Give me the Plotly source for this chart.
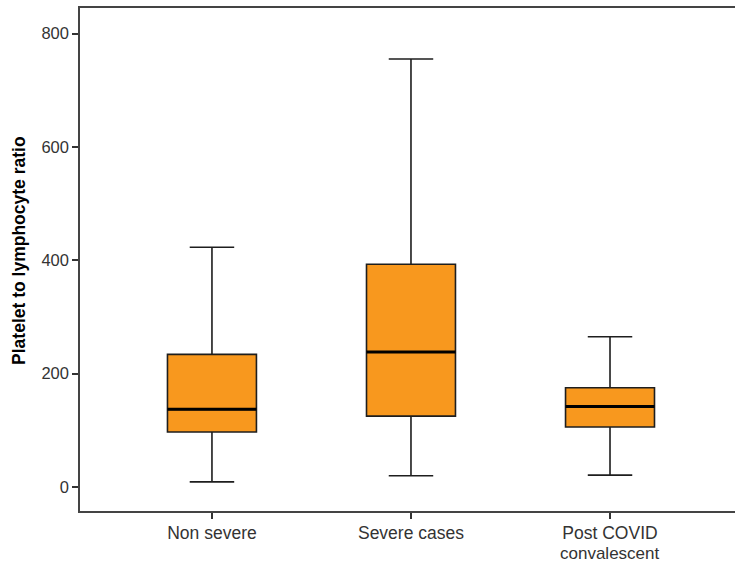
import plotly.graph_objects as go

# Summary statistics of platelet-to-lymphocyte ratio per group
groups = ["Non severe", "Severe cases", "Post COVID<br>convalescent"]
lower_whisker = [9, 20, 21]
q1 = [97, 125, 106]
median = [137, 238, 142]
q3 = [234, 393, 175]
upper_whisker = [423, 755, 265]

y_ticks = [0, 200, 400, 600, 800]

BOX_FILL = "#F8981E"
BOX_WIDTH = 0.447
FONT = "Liberation Sans, Arial, sans-serif"
LABEL_SIZE = 17.5

fig = go.Figure()

for i, name in enumerate(groups):
    fig.add_trace(go.Box(
        x=[i],
        q1=[q1[i]],
        median=[median[i]],
        q3=[q3[i]],
        lowerfence=[lower_whisker[i]],
        upperfence=[upper_whisker[i]],
        width=BOX_WIDTH,
        whiskerwidth=0.5,
        fillcolor=BOX_FILL,
        line=dict(color="#1e1e1e", width=1.6),
        boxpoints=False,
        hoverinfo="skip",
        showlegend=False,
    ))
    # heavier median bar drawn on top of the box
    fig.add_trace(go.Scatter(
        x=[i - BOX_WIDTH / 2, i + BOX_WIDTH / 2],
        y=[median[i], median[i]],
        mode="lines",
        line=dict(color="#000000", width=3),
        hoverinfo="skip",
        showlegend=False,
    ))

# first line of each category name goes on the tick; extra lines are set
# just below with tighter line spacing than plotly's default
tick_text = [g.split("<br>")[0] for g in groups]
for i, g in enumerate(groups):
    extra = g.split("<br>")[1:]
    for k, line in enumerate(extra):
        fig.add_annotation(
            text=line, x=i, xref="x",
            y=-(42 + 17.5 * k) / 503, yref="paper",
            xanchor="center", yanchor="middle", showarrow=False,
            borderpad=0,
            font=dict(family=FONT, size=17, color="#333333"),
        )

fig.add_annotation(
    text="<b>Platelet to lymphocyte ratio</b>",
    xref="paper", yref="paper",
    x=(19 - 80) / 655, y=0.517,
    xanchor="center", yanchor="middle",
    textangle=-90, showarrow=False,
    font=dict(family=FONT, size=17.5, color="#000000"),
)

fig.update_layout(
    width=735, height=564,
    margin=dict(l=80, r=0, t=8, b=53),
    paper_bgcolor="white",
    plot_bgcolor="white",
    boxmode="overlay",
    font=dict(family=FONT, size=16, color="#333333"),
    xaxis=dict(
        range=[-0.663, 2.628],
        tickmode="array",
        tickvals=list(range(len(groups))),
        ticktext=tick_text,
        ticks="outside", ticklen=6, tickwidth=1.5, tickcolor="#333333",
        ticklabelstandoff=-1,
        showline=True, linecolor="#444444", linewidth=1.5,
        mirror=True,
        showgrid=False, zeroline=False,
        automargin=False,
        tickfont=dict(family=FONT, size=LABEL_SIZE, color="#333333"),
    ),
    yaxis=dict(
        range=[-42.3, 845],
        tickmode="array",
        tickvals=y_ticks,
        ticks="outside", ticklen=6, tickwidth=1.5, tickcolor="#333333",
        showline=True, linecolor="#444444", linewidth=1.5,
        showgrid=False, zeroline=False,
        automargin=False,
        tickfont=dict(family=FONT, size=16.5, color="#333333"),
    ),
)

fig.write_html("out.html")
